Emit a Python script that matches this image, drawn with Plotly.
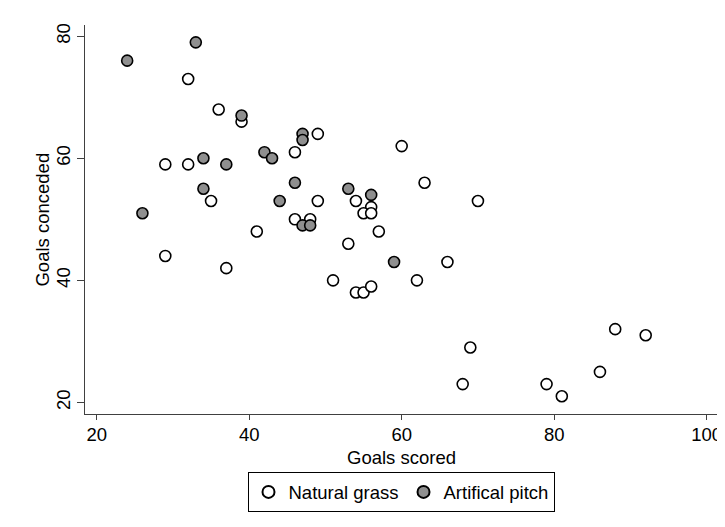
import plotly.graph_objects as go

grass_scored = [32, 36, 39, 29, 32, 35, 29, 37, 41, 46, 49, 46, 48, 49, 53, 54, 56, 55, 56, 57,
                60, 63, 70, 66, 51, 62, 54, 55, 56, 88, 92, 69, 86, 68, 79, 81]
grass_conceded = [73, 68, 66, 59, 59, 53, 44, 42, 48, 61, 64, 50, 50, 53, 46, 53, 52, 51, 51, 48,
                  62, 56, 53, 43, 40, 40, 38, 38, 39, 32, 31, 29, 25, 23, 23, 21]

art_scored = [24, 33, 26, 34, 34, 37, 39, 42, 43, 44, 46, 47, 47, 47, 48, 53, 56, 59]
art_conceded = [76, 79, 51, 60, 55, 59, 67, 61, 60, 53, 56, 64, 63, 49, 49, 55, 54, 43]

x_ticks = [20, 40, 60, 80, 100]
y_ticks = [20, 40, 60, 80]

x_title = "Goals scored"
y_title = "Goals conceded"

font = "Liberation Sans, Arial, sans-serif"
fs = 18.5

fig = go.Figure()
fig.add_trace(go.Scatter(
    x=grass_scored, y=grass_conceded, mode="markers", name="Natural grass",
    marker=dict(symbol="circle", size=11, color="white", line=dict(color="black", width=1.6)),
))
fig.add_trace(go.Scatter(
    x=art_scored, y=art_conceded, mode="markers", name="Artifical pitch",
    marker=dict(symbol="circle", size=11, color="#8f8f8f", line=dict(color="black", width=1.6)),
))

fig.update_layout(
    width=717, height=519,
    margin=dict(l=77, r=8, t=17, b=113),
    paper_bgcolor="white", plot_bgcolor="white",
    font=dict(family=font, size=fs, color="black"),
    showlegend=True,
    legend=dict(
        orientation="h", x=0.5, xanchor="center", y=-0.15, yanchor="top",
        bordercolor="black", borderwidth=1, font=dict(size=fs),
        itemsizing="constant", traceorder="normal",
    ),
    xaxis=dict(
        range=[18.47, 101.35], tickvals=x_ticks, showgrid=False, zeroline=False,
        showline=True, linecolor="#404040", linewidth=1,
        ticks="outside", ticklen=5, tickcolor="#404040", ticklabelstandoff=-1,
        tickfont=dict(size=fs), automargin=False,
    ),
    yaxis=dict(
        range=[18.1, 81.84], tickvals=y_ticks, showgrid=False, zeroline=False,
        showline=True, linecolor="#404040", linewidth=1,
        ticks="outside", ticklen=7, tickcolor="#404040", tickangle=-90,
        tickfont=dict(size=fs), automargin=False,
    ),
    annotations=[
        dict(text=x_title, xref="paper", yref="paper", x=0.5, y=-0.113,
             xanchor="center", yanchor="middle", showarrow=False, font=dict(size=fs)),
        dict(text=y_title, xref="paper", yref="paper", x=-0.068, y=0.5,
             xanchor="center", yanchor="middle", textangle=-90, showarrow=False,
             font=dict(size=fs)),
    ],
)

fig.write_html("out.html")
